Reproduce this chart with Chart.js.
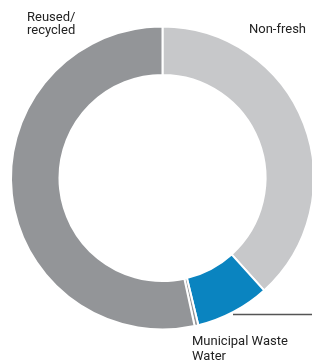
<!DOCTYPE html>
<html lang="en">
<head>
    <meta charset="UTF-8">
    <title>Water sources</title>
    <script src="https://cdn.jsdelivr.net/npm/chart.js"></script>
    <style>
        html, body { margin: 0; padding: 0; background: #fff; overflow: hidden; }
        #wrap { position: relative; width: 327px; height: 362px; }
    </style>
</head>
<body>
    <div id="wrap"><canvas id="waterChart"></canvas></div>
    <script>
        // slices clockwise from 12 o'clock
        var categories = ['Non-fresh', 'Municipal Waste Water', 'Other', 'Reused/recycled'];
        var shares = [38.3, 7.9, 0.4, 53.4];
        var sliceColors = ['#c7c8ca', '#0a84c0', '#939598', '#939598'];

        var labelText = {
            id: 'labelText',
            afterDraw: function(chart) {
                var c = chart.ctx;
                c.save();
                c.fillStyle = '#222';
                c.font = '13px Roboto';
                c.textBaseline = 'alphabetic';
                c.fillText('Reused/', 27, 21);
                c.fillText('recycled', 27, 34);
                c.fillText('Non-fresh', 249, 33);
                c.fillText('Municipal Waste', 192, 345);
                c.fillText('Water', 192, 360);
                // leader line
                c.strokeStyle = '#555';
                c.lineWidth = 1.5;
                c.beginPath();
                c.moveTo(233, 314.5);
                c.lineTo(330, 314.5);
                c.stroke();
                c.restore();
            }
        };

        var ctx = document.getElementById('waterChart').getContext('2d');
        var waterChart = new Chart(ctx, {
            type: 'doughnut',
            data: {
                labels: categories,
                datasets: [{
                    data: shares,
                    backgroundColor: sliceColors,
                    borderColor: '#ffffff',
                    borderWidth: 2
                }]
            },
            options: {
                responsive: true,
                maintainAspectRatio: false,
                animation: false,
                cutout: '68%',
                layout: { padding: { top: 25, bottom: 31, left: 10, right: 12 } },
                plugins: {
                    legend: { display: false },
                    tooltip: { enabled: false }
                }
            },
            plugins: [labelText]
        });
    </script>
</body>
</html>
